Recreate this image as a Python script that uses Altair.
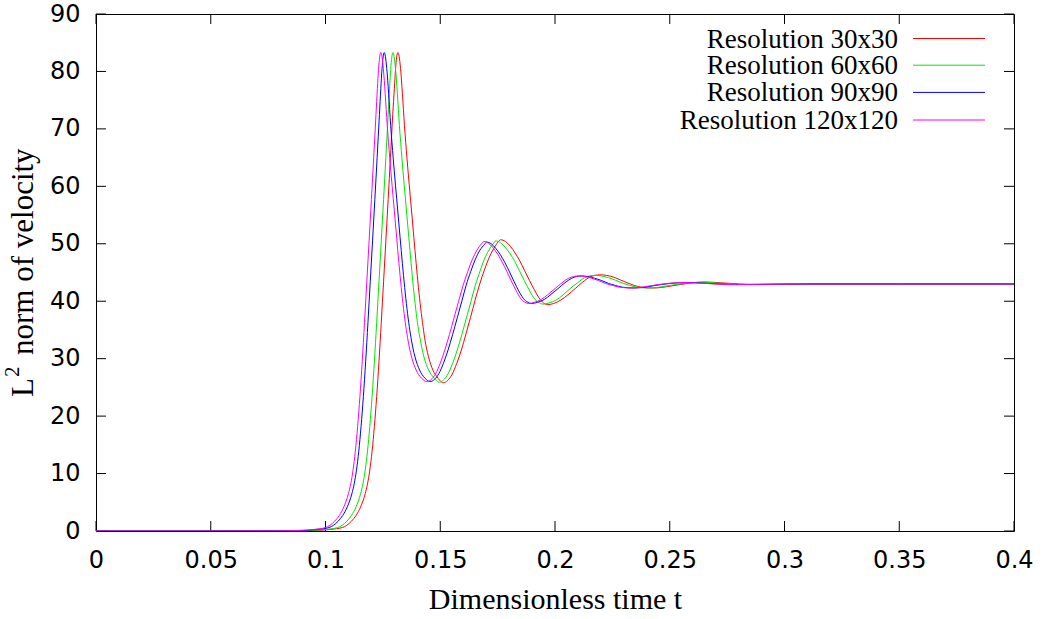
import altair as alt
import pandas as pd

# ---- data: (t, L2 norm) pairs for each resolution ----
series_labels = ["Resolution 30x30", "Resolution 60x60", "Resolution 90x90", "Resolution 120x120"]
series_colors = ["#ff0000", "#00e800", "#0000ff", "#ff00ff"]

res30 = [(0, 0), (0.05, 0), (0.0873, 0.03), (0.0973, 0.12), (0.1023, 0.28), (0.1073, 0.6), (0.1093, 1.0), (0.1113, 1.7),
         (0.1133, 2.7), (0.1153, 4.2), (0.1173, 6.5), (0.1183, 8.2), (0.1193, 10.6), (0.1203, 13.9), (0.1213, 18.2),
         (0.1223, 23.4), (0.1233, 29.5), (0.1243, 36.3), (0.1253, 43.4), (0.1263, 50.5), (0.1273, 57.7), (0.1283, 65.0),
         (0.1293, 72.5), (0.1300, 77.0), (0.1305, 80.3), (0.1310, 82.5), (0.1316, 83.3), (0.1321, 82.6), (0.1327, 80.5),
         (0.1335, 76.2), (0.1344, 70.6), (0.1355, 64.9), (0.1365, 60.2), (0.1375, 55.7), (0.1385, 51.1), (0.1395, 46.6),
         (0.1405, 42.4), (0.1415, 38.7), (0.1425, 35.6), (0.1434, 33.1), (0.1444, 31.1), (0.1454, 29.6), (0.1463, 28.5),
         (0.1473, 27.6), (0.1485, 26.9), (0.1497, 26.25), (0.1513, 25.8), (0.1532, 26.2), (0.1552, 27.3), (0.1572, 29.2),
         (0.1592, 31.5), (0.1612, 34.3), (0.1632, 37.2), (0.1652, 40.2), (0.1672, 43.0), (0.1692, 45.4), (0.1712, 47.5),
         (0.1732, 49.1), (0.1752, 50.3), (0.1763, 50.7), (0.1784, 50.4), (0.1805, 49.6), (0.1826, 48.4), (0.1847, 47.0),
         (0.1868, 45.3), (0.1889, 43.6), (0.191, 42.0), (0.193, 40.6), (0.195, 39.7), (0.1966, 39.4), (0.1994, 39.6),
         (0.2025, 40.2), (0.2056, 41.1), (0.2088, 42.2), (0.212, 43.3), (0.2152, 44.2), (0.2196, 44.6), (0.2225, 44.5),
         (0.2255, 44.2), (0.2285, 43.7), (0.2315, 43.2), (0.2345, 42.75), (0.2375, 42.45), (0.2425, 42.3), (0.2465, 42.4),
         (0.2505, 42.65), (0.2545, 42.9), (0.2585, 43.15), (0.2655, 43.35), (0.2725, 43.2), (0.2805, 43.0), (0.2885, 42.9),
         (0.299, 42.95), (0.318, 43.0), (0.35, 43.0), (0.4, 43.0)]

res60 = [(0, 0), (0.05, 0), (0.0853, 0.03), (0.0953, 0.12), (0.1003, 0.28), (0.1053, 0.6), (0.1073, 1.0), (0.1093, 1.7),
         (0.1113, 2.7), (0.1133, 4.2), (0.1153, 6.5), (0.1163, 8.2), (0.1173, 10.6), (0.1183, 13.9), (0.1193, 18.2),
         (0.1203, 23.4), (0.1213, 29.5), (0.1223, 36.3), (0.1233, 43.4), (0.1243, 50.5), (0.1253, 57.7), (0.1263, 65.0),
         (0.1273, 72.5), (0.1279, 77.0), (0.1284, 80.3), (0.1289, 82.5), (0.1294, 83.3), (0.1299, 82.6), (0.1305, 80.5),
         (0.1313, 76.2), (0.1322, 70.6), (0.1333, 64.9), (0.1343, 60.2), (0.1353, 55.7), (0.1363, 51.1), (0.1373, 46.6),
         (0.1383, 42.4), (0.1393, 38.7), (0.1403, 35.6), (0.1414, 33.1), (0.1424, 31.1), (0.1434, 29.6), (0.1444, 28.5),
         (0.1455, 27.6), (0.1467, 26.9), (0.148, 26.35), (0.1496, 25.9), (0.1514, 26.3), (0.1534, 27.35), (0.1554, 29.2),
         (0.1574, 31.5), (0.1594, 34.2), (0.1614, 37.1), (0.1634, 40.0), (0.1653, 42.8), (0.1673, 45.2), (0.1692, 47.3),
         (0.1712, 48.9), (0.1731, 50.0), (0.1741, 50.5), (0.1762, 50.2), (0.1783, 49.4), (0.1804, 48.3), (0.1825, 46.9),
         (0.1845, 45.3), (0.1866, 43.6), (0.1887, 42.0), (0.1907, 40.6), (0.1929, 39.8), (0.1947, 39.5), (0.1974, 39.7),
         (0.2005, 40.2), (0.2035, 41.1), (0.2066, 42.2), (0.2098, 43.2), (0.2129, 44.1), (0.2172, 44.5), (0.2202, 44.4),
         (0.2233, 44.1), (0.2264, 43.65), (0.2295, 43.15), (0.2325, 42.75), (0.2355, 42.45), (0.2405, 42.3), (0.2445, 42.4),
         (0.2485, 42.65), (0.2525, 42.9), (0.2565, 43.1), (0.2635, 43.3), (0.2705, 43.17), (0.2785, 42.98), (0.2865, 42.9),
         (0.297, 42.95), (0.315, 43.0), (0.35, 43.0), (0.4, 43.0)]

res90 = [(0, 0), (0.05, 0), (0.0815, 0.03), (0.0915, 0.12), (0.0965, 0.28), (0.1015, 0.6), (0.1035, 1.0), (0.1055, 1.7),
         (0.1075, 2.7), (0.1095, 4.2), (0.1115, 6.5), (0.1125, 8.2), (0.1135, 10.6), (0.1145, 13.9), (0.1155, 18.2),
         (0.1165, 23.4), (0.1175, 29.5), (0.1185, 36.3), (0.1195, 43.4), (0.1205, 50.5), (0.1215, 57.7), (0.1225, 65.0),
         (0.1235, 72.5), (0.1241, 77.0), (0.1246, 80.3), (0.1251, 82.5), (0.1256, 83.3), (0.1261, 82.6), (0.1267, 80.5),
         (0.1275, 76.2), (0.1284, 70.6), (0.1295, 64.9), (0.1305, 60.2), (0.1315, 55.7), (0.1325, 51.1), (0.1335, 46.6),
         (0.1345, 42.4), (0.1355, 38.7), (0.1365, 35.6), (0.1375, 33.1), (0.1385, 31.1), (0.1395, 29.6), (0.1405, 28.5),
         (0.1415, 27.6), (0.1427, 26.9), (0.1440, 26.35), (0.1456, 26.0), (0.1474, 26.35), (0.1494, 27.4), (0.1514, 29.2),
         (0.1534, 31.5), (0.1554, 34.2), (0.1574, 37.1), (0.1594, 40.0), (0.1613, 42.8), (0.1633, 45.2), (0.1653, 47.3),
         (0.1673, 48.9), (0.1693, 49.9), (0.1702, 50.3), (0.1722, 50.0), (0.1742, 49.2), (0.1762, 48.1), (0.1782, 46.7),
         (0.1802, 45.1), (0.1822, 43.4), (0.1842, 41.8), (0.1862, 40.5), (0.1882, 39.8), (0.1897, 39.6), (0.1923, 39.8),
         (0.1953, 40.3), (0.1983, 41.2), (0.2013, 42.2), (0.2043, 43.2), (0.2073, 44.0), (0.2114, 44.4), (0.2143, 44.3),
         (0.2173, 44.0), (0.2203, 43.6), (0.2233, 43.1), (0.2263, 42.75), (0.2293, 42.45), (0.2343, 42.3), (0.2383, 42.4),
         (0.2423, 42.65), (0.2463, 42.9), (0.2503, 43.1), (0.2573, 43.25), (0.2643, 43.15), (0.2723, 42.98), (0.2803, 42.9),
         (0.291, 42.95), (0.31, 43.0), (0.35, 43.0), (0.4, 43.0)]

res120 = [(0, 0), (0.05, 0), (0.08, 0.03), (0.09, 0.12), (0.095, 0.28), (0.1, 0.6), (0.102, 1.0), (0.104, 1.7),
          (0.106, 2.7), (0.108, 4.2), (0.110, 6.5), (0.111, 8.2), (0.112, 10.6), (0.113, 13.9), (0.114, 18.2),
          (0.115, 23.4), (0.116, 29.5), (0.117, 36.3), (0.118, 43.4), (0.119, 50.5), (0.120, 57.7), (0.121, 65.0),
          (0.122, 72.5), (0.1226, 77.0), (0.1231, 80.3), (0.1236, 82.5), (0.1241, 83.3), (0.1246, 82.6), (0.1252, 80.5),
          (0.126, 76.2), (0.1269, 70.6), (0.128, 64.9), (0.129, 60.2), (0.130, 55.7), (0.131, 51.1), (0.132, 46.6),
          (0.133, 42.4), (0.134, 38.7), (0.135, 35.6), (0.136, 33.1), (0.137, 31.1), (0.138, 29.6), (0.139, 28.5),
          (0.140, 27.6), (0.1412, 26.9), (0.1425, 26.35), (0.1441, 26.0), (0.146, 26.35), (0.148, 27.4), (0.150, 29.2),
          (0.152, 31.5), (0.154, 34.2), (0.156, 37.1), (0.158, 40.0), (0.160, 42.8), (0.162, 45.2), (0.164, 47.3),
          (0.166, 48.9), (0.168, 50.0), (0.1691, 50.4), (0.171, 50.1), (0.173, 49.3), (0.175, 48.2), (0.177, 46.8),
          (0.179, 45.2), (0.181, 43.5), (0.183, 41.9), (0.185, 40.5), (0.187, 39.8), (0.1884, 39.6), (0.191, 39.8),
          (0.194, 40.3), (0.197, 41.2), (0.200, 42.2), (0.203, 43.2), (0.206, 44.0), (0.2102, 44.4), (0.213, 44.3),
          (0.216, 44.0), (0.219, 43.6), (0.222, 43.1), (0.225, 42.75), (0.228, 42.45), (0.233, 42.3), (0.237, 42.4),
          (0.241, 42.65), (0.245, 42.9), (0.249, 43.1), (0.256, 43.25), (0.263, 43.15), (0.271, 42.98), (0.279, 42.9),
          (0.29, 42.95), (0.31, 43.0), (0.35, 43.0), (0.4, 43.0)]

x_ticks = [0, 0.05, 0.1, 0.15, 0.2, 0.25, 0.3, 0.35, 0.4]
y_ticks = [0, 10, 20, 30, 40, 50, 60, 70, 80, 90]

x_title = "Dimensionless time t"
y_title_parts = ["L", "2", "norm of velocity"]   # L^2 norm of velocity

# ---- layout ----
W, H = 918, 517
TICK = 10
SERIF = "Liberation Serif"
SANS = "DejaVu Sans"

xs = alt.Scale(domain=[0, 0.4], nice=False, zero=False)
ys = alt.Scale(domain=[0, 90], nice=False, zero=False)

x_axis = alt.Axis(values=x_ticks, format="~g", title=x_title, grid=False, domain=False,
                  ticks=False, tickSize=0, labelFont=SANS, labelFontSize=24, labelColor="black",
                  labelPadding=36, labelBaseline="alphabetic", labelFlush=False, labelOverlap=False,
                  titleFont=SERIF, titleFontSize=30, titleFontWeight="normal", titleColor="black",
                  titleY=77, titleBaseline="alphabetic")
y_axis = alt.Axis(values=y_ticks, format="d", title="", grid=False, domain=False,
                  ticks=False, tickSize=0, labelFont=SANS, labelFontSize=24, labelColor="black",
                  labelPadding=16, labelFlush=False, labelOverlap=False)


def X(field):
    return alt.X(f"{field}:Q", scale=xs, axis=x_axis)


def Y(field):
    return alt.Y(f"{field}:Q", scale=ys, axis=y_axis)


layers = []

# tick marks drawn inside the frame (gnuplot style, mirrored)
xt = pd.DataFrame({"t": x_ticks})
yt = pd.DataFrame({"v": y_ticks})
layers.append(alt.Chart(xt).mark_rule(color="black", strokeWidth=1).encode(x=X("t"), y=alt.value(H), y2=alt.value(H - TICK)))
layers.append(alt.Chart(xt).mark_rule(color="black", strokeWidth=1).encode(x=X("t"), y=alt.value(0), y2=alt.value(TICK)))
layers.append(alt.Chart(yt).mark_rule(color="black", strokeWidth=1).encode(y=Y("v"), x=alt.value(0), x2=alt.value(TICK)))
layers.append(alt.Chart(yt).mark_rule(color="black", strokeWidth=1).encode(y=Y("v"), x=alt.value(W), x2=alt.value(W - TICK)))

# the four curves, drawn in gnuplot order (finest on top)
for pts, col in zip([res30, res60, res90, res120], series_colors):
    df = pd.DataFrame(pts, columns=["t", "v"])
    layers.append(
        alt.Chart(df).mark_line(interpolate="monotone", strokeWidth=1, color=col, clip=True)
        .encode(x=X("t"), y=Y("v"))
    )

one = pd.DataFrame({"a": [0]})

# y-axis title "L^2 norm of velocity", rotated, with a raised small 2
for txt, size, bx, sy in zip(y_title_parts, [31, 21, 31], [-63, -77, -63], [383, 363, 341]):
    layers.append(
        alt.Chart(one).mark_text(font=SERIF, fontSize=size, align="left", baseline="alphabetic",
                                 angle=270, color="black")
        .encode(x=alt.value(bx), y=alt.value(sy), text=alt.value(txt))
    )

# legend (gnuplot style: label right-aligned, sample line to its right)
row_y = [24.5, 51.2, 78.4, 106.0]
for lab, col, ry in zip(series_labels, series_colors, row_y):
    layers.append(
        alt.Chart(one).mark_text(font=SERIF, fontSize=27, align="right", baseline="alphabetic", color="black")
        .encode(x=alt.value(802), y=alt.value(ry + 9), text=alt.value(lab))
    )
    layers.append(
        alt.Chart(one).mark_rule(color=col, strokeWidth=1)
        .encode(x=alt.value(817), x2=alt.value(889), y=alt.value(ry))
    )

chart = (
    alt.layer(*layers)
    .properties(width=W, height=H,
                autosize=alt.AutoSizeParams(type="none"),
                padding={"left": 96, "top": 14, "right": 30, "bottom": 88},
                background="white")
    .configure_view(stroke="black", strokeWidth=1)
)

chart.save("out.html", embed_options={"renderer": "svg", "actions": False})
